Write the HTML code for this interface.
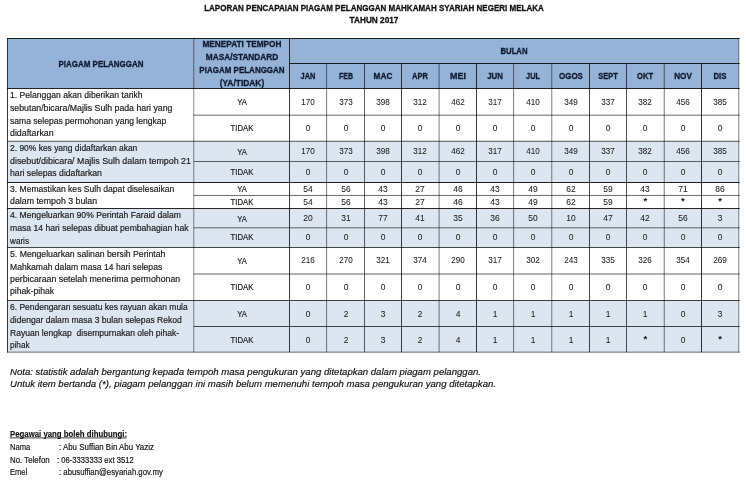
<!DOCTYPE html>
<html lang="ms"><head><meta charset="utf-8"><title>Laporan Pencapaian Piagam Pelanggan Mahkamah Syariah Negeri Melaka 2017</title>
<style>
html,body{margin:0;padding:0;background:#fff}
body{width:746px;height:480px;position:relative;overflow:hidden;font-family:"Liberation Sans",sans-serif}
#grid{position:absolute;left:0;top:0}
#txt{position:absolute;left:0;top:0;width:746px;height:480px;will-change:transform}
.t{position:absolute;white-space:pre;line-height:12px;height:12px;margin:0;padding:0}
.l{transform-origin:0 50%}
.c{transform-origin:50% 50%}
.title{font-size:9.2px;color:#111;font-weight:bold;}
.hdr{font-size:8.7px;color:#0f1a30;font-weight:bold;}
.body{font-size:8.65px;color:#1a1a1a;}
.lab{font-size:8.2px;color:#1a1a1a;}
.num{font-size:8.4px;color:#1a1a1a;}
.note{font-size:9.57px;color:#111;font-style:italic;}
.chead{font-size:9.2px;color:#111;font-weight:bold;}
.ast{font-size:9.5px;color:#111;font-weight:bold;}
.con{font-size:9.2px;color:#111;}
.hdr,.title{-webkit-text-stroke:0.3px currentColor}
.chead{-webkit-text-stroke:0.15px currentColor}
.body,.lab,.note,.con{-webkit-text-stroke:0.18px currentColor}
.num{-webkit-text-stroke:0.06px currentColor}
</style></head><body>
<svg id="grid" width="746" height="480" viewBox="0 0 746 480"><rect x="7.5" y="38.5" width="731.28" height="50.0" fill="#95b3d7"/><rect x="7.5" y="141.25" width="731.28" height="41.25" fill="#dce6f1"/><rect x="7.5" y="208.5" width="731.28" height="39.0" fill="#dce6f1"/><rect x="7.5" y="300.5" width="731.28" height="51.65" fill="#dce6f1"/><g stroke="#000" fill="none"><line x1="7.11" y1="38.5" x2="739.68" y2="38.5" stroke-width="0.88"/><line x1="289.5" y1="63.5" x2="739.68" y2="63.5" stroke-width="0.85"/><line x1="7.11" y1="88.5" x2="739.68" y2="88.5" stroke-width="0.85"/><line x1="193.78" y1="115.17" x2="739.68" y2="115.17" stroke-width="0.6"/><line x1="7.11" y1="141.25" x2="739.68" y2="141.25" stroke-width="0.67"/><line x1="193.78" y1="161.5" x2="739.68" y2="161.5" stroke-width="0.6"/><line x1="7.11" y1="182.5" x2="739.68" y2="182.5" stroke-width="0.88"/><line x1="193.78" y1="195.45" x2="739.68" y2="195.45" stroke-width="0.58"/><line x1="7.11" y1="208.5" x2="739.68" y2="208.5" stroke-width="0.85"/><line x1="193.78" y1="227.8" x2="739.68" y2="227.8" stroke-width="0.58"/><line x1="7.11" y1="247.5" x2="739.68" y2="247.5" stroke-width="0.72"/><line x1="193.78" y1="274.0" x2="739.68" y2="274.0" stroke-width="0.6"/><line x1="7.11" y1="300.5" x2="739.68" y2="300.5" stroke-width="0.75"/><line x1="193.78" y1="326.5" x2="739.68" y2="326.5" stroke-width="0.72"/><line x1="7.11" y1="352.15" x2="739.68" y2="352.15" stroke-width="0.58"/><line x1="7.5" y1="38.06" x2="7.5" y2="352.44" stroke-width="0.78"/><line x1="193.78" y1="38.5" x2="193.78" y2="352.15" stroke-width="0.47"/><line x1="289.5" y1="38.5" x2="289.5" y2="352.15" stroke-width="0.78"/><line x1="738.78" y1="38.06" x2="738.78" y2="352.44" stroke-width="0.5"/><line x1="326.6" y1="63.5" x2="326.6" y2="352.15" stroke-width="0.53"/><line x1="364.5" y1="63.5" x2="364.5" y2="352.15" stroke-width="0.62"/><line x1="401.5" y1="63.5" x2="401.5" y2="352.15" stroke-width="0.76"/><line x1="439.08" y1="63.5" x2="439.08" y2="352.15" stroke-width="0.53"/><line x1="476.5" y1="63.5" x2="476.5" y2="352.15" stroke-width="0.78"/><line x1="513.6" y1="63.5" x2="513.6" y2="352.15" stroke-width="0.53"/><line x1="551.78" y1="63.5" x2="551.78" y2="352.15" stroke-width="0.5"/><line x1="589.5" y1="63.5" x2="589.5" y2="352.15" stroke-width="0.72"/><line x1="626.5" y1="63.5" x2="626.5" y2="352.15" stroke-width="0.69"/><line x1="664.24" y1="63.5" x2="664.24" y2="352.15" stroke-width="0.54"/><line x1="701.5" y1="63.5" x2="701.5" y2="352.15" stroke-width="0.8"/></g><line x1="9.6" y1="437.9" x2="126.6" y2="437.9" stroke="#111" stroke-width="0.8"/></svg>
<div id="txt">
<div class="t c title" id="t0" style="top:2.00px;left:173.85px;width:400px;text-align:center;transform:scaleX(0.8734);"><span id="s0">LAPORAN PENCAPAIAN PIAGAM PELANGGAN MAHKAMAH SYARIAH NEGERI MELAKA</span></div>
<div class="t c title" id="t1" style="top:14.00px;left:173.60px;width:400px;text-align:center;transform:scaleX(0.8959);"><span id="s1">TAHUN 2017</span></div>
<div class="t c hdr" id="t2" style="top:58.00px;left:-99.50px;width:400px;text-align:center;transform:scaleX(0.9172);"><span id="s2">PIAGAM PELANGGAN</span></div>
<div class="t c hdr" id="t3" style="top:38.00px;left:41.64px;width:400px;text-align:center;transform:scaleX(0.9497);"><span id="s3">MENEPATI TEMPOH</span></div>
<div class="t c hdr" id="t4" style="top:51.00px;left:41.64px;width:400px;text-align:center;transform:scaleX(0.9515);"><span id="s4">MASA/STANDARD</span></div>
<div class="t c hdr" id="t5" style="top:64.00px;left:41.64px;width:400px;text-align:center;transform:scaleX(0.9205);"><span id="s5">PIAGAM PELANGGAN</span></div>
<div class="t c hdr" id="t6" style="top:77.00px;left:41.64px;width:400px;text-align:center;transform:scaleX(0.9671);"><span id="s6">(YA/TIDAK)</span></div>
<div class="t c hdr" id="t7" style="top:45.00px;left:314.14px;width:400px;text-align:center;transform:scaleX(0.8913);"><span id="s7">BULAN</span></div>
<div class="t c hdr" id="t8" style="top:70.00px;left:108.05px;width:400px;text-align:center;transform:scaleX(0.8510);"><span id="s8">JAN</span></div>
<div class="t c hdr" id="t9" style="top:70.00px;left:145.55px;width:400px;text-align:center;transform:scaleX(0.8058);"><span id="s9">FEB</span></div>
<div class="t c hdr" id="t10" style="top:70.00px;left:183.00px;width:400px;text-align:center;transform:scaleX(0.9496);"><span id="s10">MAC</span></div>
<div class="t c hdr" id="t11" style="top:70.00px;left:220.29px;width:400px;text-align:center;transform:scaleX(0.8668);"><span id="s11">APR</span></div>
<div class="t c hdr" id="t12" style="top:70.00px;left:257.79px;width:400px;text-align:center;transform:scaleX(1.0289);"><span id="s12">MEI</span></div>
<div class="t c hdr" id="t13" style="top:70.00px;left:295.05px;width:400px;text-align:center;transform:scaleX(0.9028);"><span id="s13">JUN</span></div>
<div class="t c hdr" id="t14" style="top:70.00px;left:332.69px;width:400px;text-align:center;transform:scaleX(0.8464);"><span id="s14">JUL</span></div>
<div class="t c hdr" id="t15" style="top:70.00px;left:370.64px;width:400px;text-align:center;transform:scaleX(0.9165);"><span id="s15">OGOS</span></div>
<div class="t c hdr" id="t16" style="top:70.00px;left:408.00px;width:400px;text-align:center;transform:scaleX(0.8589);"><span id="s16">SEPT</span></div>
<div class="t c hdr" id="t17" style="top:70.00px;left:445.37px;width:400px;text-align:center;transform:scaleX(0.8777);"><span id="s17">OKT</span></div>
<div class="t c hdr" id="t18" style="top:70.00px;left:482.87px;width:400px;text-align:center;transform:scaleX(0.9401);"><span id="s18">NOV</span></div>
<div class="t c hdr" id="t19" style="top:70.00px;left:520.14px;width:400px;text-align:center;transform:scaleX(0.8975);"><span id="s19">DIS</span></div>
<div class="t l body" id="t20" style="top:89.00px;left:10.00px;transform:scaleX(0.9983);">1. Pelanggan akan diberikan tarikh</div>
<div class="t l body" id="t21" style="top:102.00px;left:10.00px;transform:scaleX(1.0141);">sebutan/bicara/Majlis Sulh pada hari yang</div>
<div class="t l body" id="t22" style="top:115.00px;left:10.00px;transform:scaleX(0.9901);">sama selepas permohonan yang lengkap</div>
<div class="t l body" id="t23" style="top:127.00px;left:10.00px;transform:scaleX(1.0214);">didaftarkan</div>
<div class="t l body" id="t24" style="top:142.00px;left:10.00px;transform:scaleX(0.9796);">2. 90% kes yang didaftarkan akan</div>
<div class="t l body" id="t25" style="top:155.00px;left:10.00px;transform:scaleX(1.0281);">disebut/dibicara/ Majlis Sulh dalam tempoh 21</div>
<div class="t l body" id="t26" style="top:167.00px;left:10.00px;transform:scaleX(1.0035);">hari selepas didaftarkan</div>
<div class="t l body" id="t27" style="top:183.00px;left:10.00px;transform:scaleX(0.9933);">3. Memastikan kes Sulh dapat diselesaikan</div>
<div class="t l body" id="t28" style="top:195.00px;left:10.00px;transform:scaleX(1.0204);">dalam tempoh 3 bulan</div>
<div class="t l body" id="t29" style="top:209.00px;left:10.00px;transform:scaleX(0.9990);">4. Mengeluarkan 90% Perintah Faraid dalam</div>
<div class="t l body" id="t30" style="top:222.00px;left:10.00px;transform:scaleX(0.9980);">masa 14 hari selepas dibuat pembahagian hak</div>
<div class="t l body" id="t31" style="top:235.00px;left:10.00px;transform:scaleX(0.9434);">waris</div>
<div class="t l body" id="t32" style="top:248.00px;left:10.00px;transform:scaleX(1.0065);">5. Mengeluarkan salinan bersih Perintah</div>
<div class="t l body" id="t33" style="top:261.00px;left:10.00px;transform:scaleX(0.9952);">Mahkamah dalam masa 14 hari selepas</div>
<div class="t l body" id="t34" style="top:273.00px;left:10.00px;transform:scaleX(1.0171);">perbicaraan setelah menerima permohonan</div>
<div class="t l body" id="t35" style="top:285.00px;left:10.00px;transform:scaleX(1.0017);">pihak-pihak</div>
<div class="t l body" id="t36" style="top:301.00px;left:10.00px;transform:scaleX(0.9830);">6. Pendengaran sesuatu kes rayuan akan mula</div>
<div class="t l body" id="t37" style="top:314.00px;left:10.00px;transform:scaleX(0.9925);">didengar dalam masa 3 bulan selepas Rekod</div>
<div class="t l body" id="t38" style="top:327.00px;left:10.00px;transform:scaleX(0.9906);">Rayuan lengkap  disempurnakan oleh pihak-</div>
<div class="t l body" id="t39" style="top:339.00px;left:10.00px;transform:scaleX(0.9455);">pihak</div>
<div class="t c lab" id="t40" style="top:97.00px;left:41.64px;width:400px;text-align:center;transform:scaleX(0.9295);"><span id="s40">YA</span></div>
<div class="t c num" id="t41" style="top:96.00px;left:108.05px;width:400px;text-align:center;transform:scaleX(0.9654);"><span id="s41">170</span></div>
<div class="t c num" id="t42" style="top:96.00px;left:145.55px;width:400px;text-align:center;transform:scaleX(0.9654);"><span id="s42">373</span></div>
<div class="t c num" id="t43" style="top:96.00px;left:183.00px;width:400px;text-align:center;transform:scaleX(0.9654);"><span id="s43">398</span></div>
<div class="t c num" id="t44" style="top:96.00px;left:220.29px;width:400px;text-align:center;transform:scaleX(0.9654);"><span id="s44">312</span></div>
<div class="t c num" id="t45" style="top:96.00px;left:257.79px;width:400px;text-align:center;transform:scaleX(0.9654);"><span id="s45">462</span></div>
<div class="t c num" id="t46" style="top:96.00px;left:295.05px;width:400px;text-align:center;transform:scaleX(0.9654);"><span id="s46">317</span></div>
<div class="t c num" id="t47" style="top:96.00px;left:332.69px;width:400px;text-align:center;transform:scaleX(0.9654);"><span id="s47">410</span></div>
<div class="t c num" id="t48" style="top:96.00px;left:370.64px;width:400px;text-align:center;transform:scaleX(0.9654);"><span id="s48">349</span></div>
<div class="t c num" id="t49" style="top:96.00px;left:408.00px;width:400px;text-align:center;transform:scaleX(0.9654);"><span id="s49">337</span></div>
<div class="t c num" id="t50" style="top:96.00px;left:445.37px;width:400px;text-align:center;transform:scaleX(0.9654);"><span id="s50">382</span></div>
<div class="t c num" id="t51" style="top:96.00px;left:482.87px;width:400px;text-align:center;transform:scaleX(0.9654);"><span id="s51">456</span></div>
<div class="t c num" id="t52" style="top:96.00px;left:520.14px;width:400px;text-align:center;transform:scaleX(0.9654);"><span id="s52">385</span></div>
<div class="t c lab" id="t53" style="top:123.00px;left:41.64px;width:400px;text-align:center;transform:scaleX(0.9451);"><span id="s53">TIDAK</span></div>
<div class="t c num" id="t54" style="top:122.00px;left:108.05px;width:400px;text-align:center;transform:scaleX(1.0060);"><span id="s54">0</span></div>
<div class="t c num" id="t55" style="top:122.00px;left:145.55px;width:400px;text-align:center;transform:scaleX(1.0060);"><span id="s55">0</span></div>
<div class="t c num" id="t56" style="top:122.00px;left:183.00px;width:400px;text-align:center;transform:scaleX(1.0060);"><span id="s56">0</span></div>
<div class="t c num" id="t57" style="top:122.00px;left:220.29px;width:400px;text-align:center;transform:scaleX(1.0060);"><span id="s57">0</span></div>
<div class="t c num" id="t58" style="top:122.00px;left:257.79px;width:400px;text-align:center;transform:scaleX(1.0060);"><span id="s58">0</span></div>
<div class="t c num" id="t59" style="top:122.00px;left:295.05px;width:400px;text-align:center;transform:scaleX(1.0060);"><span id="s59">0</span></div>
<div class="t c num" id="t60" style="top:122.00px;left:332.69px;width:400px;text-align:center;transform:scaleX(1.0060);"><span id="s60">0</span></div>
<div class="t c num" id="t61" style="top:122.00px;left:370.64px;width:400px;text-align:center;transform:scaleX(1.0060);"><span id="s61">0</span></div>
<div class="t c num" id="t62" style="top:122.00px;left:408.00px;width:400px;text-align:center;transform:scaleX(1.0060);"><span id="s62">0</span></div>
<div class="t c num" id="t63" style="top:122.00px;left:445.37px;width:400px;text-align:center;transform:scaleX(1.0060);"><span id="s63">0</span></div>
<div class="t c num" id="t64" style="top:122.00px;left:482.87px;width:400px;text-align:center;transform:scaleX(1.0060);"><span id="s64">0</span></div>
<div class="t c num" id="t65" style="top:122.00px;left:520.14px;width:400px;text-align:center;transform:scaleX(1.0060);"><span id="s65">0</span></div>
<div class="t c lab" id="t66" style="top:147.00px;left:41.64px;width:400px;text-align:center;transform:scaleX(0.9295);"><span id="s66">YA</span></div>
<div class="t c num" id="t67" style="top:145.00px;left:108.05px;width:400px;text-align:center;transform:scaleX(0.9654);"><span id="s67">170</span></div>
<div class="t c num" id="t68" style="top:145.00px;left:145.55px;width:400px;text-align:center;transform:scaleX(0.9654);"><span id="s68">373</span></div>
<div class="t c num" id="t69" style="top:145.00px;left:183.00px;width:400px;text-align:center;transform:scaleX(0.9654);"><span id="s69">398</span></div>
<div class="t c num" id="t70" style="top:145.00px;left:220.29px;width:400px;text-align:center;transform:scaleX(0.9654);"><span id="s70">312</span></div>
<div class="t c num" id="t71" style="top:145.00px;left:257.79px;width:400px;text-align:center;transform:scaleX(0.9654);"><span id="s71">462</span></div>
<div class="t c num" id="t72" style="top:145.00px;left:295.05px;width:400px;text-align:center;transform:scaleX(0.9654);"><span id="s72">317</span></div>
<div class="t c num" id="t73" style="top:145.00px;left:332.69px;width:400px;text-align:center;transform:scaleX(0.9654);"><span id="s73">410</span></div>
<div class="t c num" id="t74" style="top:145.00px;left:370.64px;width:400px;text-align:center;transform:scaleX(0.9654);"><span id="s74">349</span></div>
<div class="t c num" id="t75" style="top:145.00px;left:408.00px;width:400px;text-align:center;transform:scaleX(0.9654);"><span id="s75">337</span></div>
<div class="t c num" id="t76" style="top:145.00px;left:445.37px;width:400px;text-align:center;transform:scaleX(0.9654);"><span id="s76">382</span></div>
<div class="t c num" id="t77" style="top:145.00px;left:482.87px;width:400px;text-align:center;transform:scaleX(0.9654);"><span id="s77">456</span></div>
<div class="t c num" id="t78" style="top:145.00px;left:520.14px;width:400px;text-align:center;transform:scaleX(0.9654);"><span id="s78">385</span></div>
<div class="t c lab" id="t79" style="top:167.00px;left:41.64px;width:400px;text-align:center;transform:scaleX(0.9451);"><span id="s79">TIDAK</span></div>
<div class="t c num" id="t80" style="top:166.00px;left:108.05px;width:400px;text-align:center;transform:scaleX(1.0060);"><span id="s80">0</span></div>
<div class="t c num" id="t81" style="top:166.00px;left:145.55px;width:400px;text-align:center;transform:scaleX(1.0060);"><span id="s81">0</span></div>
<div class="t c num" id="t82" style="top:166.00px;left:183.00px;width:400px;text-align:center;transform:scaleX(1.0060);"><span id="s82">0</span></div>
<div class="t c num" id="t83" style="top:166.00px;left:220.29px;width:400px;text-align:center;transform:scaleX(1.0060);"><span id="s83">0</span></div>
<div class="t c num" id="t84" style="top:166.00px;left:257.79px;width:400px;text-align:center;transform:scaleX(1.0060);"><span id="s84">0</span></div>
<div class="t c num" id="t85" style="top:166.00px;left:295.05px;width:400px;text-align:center;transform:scaleX(1.0060);"><span id="s85">0</span></div>
<div class="t c num" id="t86" style="top:166.00px;left:332.69px;width:400px;text-align:center;transform:scaleX(1.0060);"><span id="s86">0</span></div>
<div class="t c num" id="t87" style="top:166.00px;left:370.64px;width:400px;text-align:center;transform:scaleX(1.0060);"><span id="s87">0</span></div>
<div class="t c num" id="t88" style="top:166.00px;left:408.00px;width:400px;text-align:center;transform:scaleX(1.0060);"><span id="s88">0</span></div>
<div class="t c num" id="t89" style="top:166.00px;left:445.37px;width:400px;text-align:center;transform:scaleX(1.0060);"><span id="s89">0</span></div>
<div class="t c num" id="t90" style="top:166.00px;left:482.87px;width:400px;text-align:center;transform:scaleX(1.0060);"><span id="s90">0</span></div>
<div class="t c num" id="t91" style="top:166.00px;left:520.14px;width:400px;text-align:center;transform:scaleX(1.0060);"><span id="s91">0</span></div>
<div class="t c lab" id="t92" style="top:184.00px;left:41.64px;width:400px;text-align:center;transform:scaleX(0.9295);"><span id="s92">YA</span></div>
<div class="t c num" id="t93" style="top:183.00px;left:108.05px;width:400px;text-align:center;transform:scaleX(1.0077);"><span id="s93">54</span></div>
<div class="t c num" id="t94" style="top:183.00px;left:145.55px;width:400px;text-align:center;transform:scaleX(1.0077);"><span id="s94">56</span></div>
<div class="t c num" id="t95" style="top:183.00px;left:183.00px;width:400px;text-align:center;transform:scaleX(1.0077);"><span id="s95">43</span></div>
<div class="t c num" id="t96" style="top:183.00px;left:220.29px;width:400px;text-align:center;transform:scaleX(1.0077);"><span id="s96">27</span></div>
<div class="t c num" id="t97" style="top:183.00px;left:257.79px;width:400px;text-align:center;transform:scaleX(1.0077);"><span id="s97">46</span></div>
<div class="t c num" id="t98" style="top:183.00px;left:295.05px;width:400px;text-align:center;transform:scaleX(1.0077);"><span id="s98">43</span></div>
<div class="t c num" id="t99" style="top:183.00px;left:332.69px;width:400px;text-align:center;transform:scaleX(1.0077);"><span id="s99">49</span></div>
<div class="t c num" id="t100" style="top:183.00px;left:370.64px;width:400px;text-align:center;transform:scaleX(1.0077);"><span id="s100">62</span></div>
<div class="t c num" id="t101" style="top:183.00px;left:408.00px;width:400px;text-align:center;transform:scaleX(1.0077);"><span id="s101">59</span></div>
<div class="t c num" id="t102" style="top:183.00px;left:445.37px;width:400px;text-align:center;transform:scaleX(1.0077);"><span id="s102">43</span></div>
<div class="t c num" id="t103" style="top:183.00px;left:482.87px;width:400px;text-align:center;transform:scaleX(1.0077);"><span id="s103">71</span></div>
<div class="t c num" id="t104" style="top:183.00px;left:520.14px;width:400px;text-align:center;transform:scaleX(1.0077);"><span id="s104">86</span></div>
<div class="t c lab" id="t105" style="top:197.00px;left:41.64px;width:400px;text-align:center;transform:scaleX(0.9451);"><span id="s105">TIDAK</span></div>
<div class="t c num" id="t106" style="top:196.00px;left:108.05px;width:400px;text-align:center;transform:scaleX(1.0077);"><span id="s106">54</span></div>
<div class="t c num" id="t107" style="top:196.00px;left:145.55px;width:400px;text-align:center;transform:scaleX(1.0077);"><span id="s107">56</span></div>
<div class="t c num" id="t108" style="top:196.00px;left:183.00px;width:400px;text-align:center;transform:scaleX(1.0077);"><span id="s108">43</span></div>
<div class="t c num" id="t109" style="top:196.00px;left:220.29px;width:400px;text-align:center;transform:scaleX(1.0077);"><span id="s109">27</span></div>
<div class="t c num" id="t110" style="top:196.00px;left:257.79px;width:400px;text-align:center;transform:scaleX(1.0077);"><span id="s110">46</span></div>
<div class="t c num" id="t111" style="top:196.00px;left:295.05px;width:400px;text-align:center;transform:scaleX(1.0077);"><span id="s111">43</span></div>
<div class="t c num" id="t112" style="top:196.00px;left:332.69px;width:400px;text-align:center;transform:scaleX(1.0077);"><span id="s112">49</span></div>
<div class="t c num" id="t113" style="top:196.00px;left:370.64px;width:400px;text-align:center;transform:scaleX(1.0077);"><span id="s113">62</span></div>
<div class="t c num" id="t114" style="top:196.00px;left:408.00px;width:400px;text-align:center;transform:scaleX(1.0077);"><span id="s114">59</span></div>
<div class="t c ast" id="t115" style="top:195.00px;left:445.37px;width:400px;text-align:center;"><span id="s115">*</span></div>
<div class="t c ast" id="t116" style="top:195.00px;left:482.87px;width:400px;text-align:center;"><span id="s116">*</span></div>
<div class="t c ast" id="t117" style="top:195.00px;left:520.14px;width:400px;text-align:center;"><span id="s117">*</span></div>
<div class="t c lab" id="t118" style="top:214.00px;left:41.64px;width:400px;text-align:center;transform:scaleX(0.9295);"><span id="s118">YA</span></div>
<div class="t c num" id="t119" style="top:212.00px;left:108.05px;width:400px;text-align:center;transform:scaleX(1.0077);"><span id="s119">20</span></div>
<div class="t c num" id="t120" style="top:212.00px;left:145.55px;width:400px;text-align:center;transform:scaleX(1.0077);"><span id="s120">31</span></div>
<div class="t c num" id="t121" style="top:212.00px;left:183.00px;width:400px;text-align:center;transform:scaleX(1.0077);"><span id="s121">77</span></div>
<div class="t c num" id="t122" style="top:212.00px;left:220.29px;width:400px;text-align:center;transform:scaleX(1.0077);"><span id="s122">41</span></div>
<div class="t c num" id="t123" style="top:212.00px;left:257.79px;width:400px;text-align:center;transform:scaleX(1.0077);"><span id="s123">35</span></div>
<div class="t c num" id="t124" style="top:212.00px;left:295.05px;width:400px;text-align:center;transform:scaleX(1.0077);"><span id="s124">36</span></div>
<div class="t c num" id="t125" style="top:212.00px;left:332.69px;width:400px;text-align:center;transform:scaleX(1.0077);"><span id="s125">50</span></div>
<div class="t c num" id="t126" style="top:212.00px;left:370.64px;width:400px;text-align:center;transform:scaleX(1.0077);"><span id="s126">10</span></div>
<div class="t c num" id="t127" style="top:212.00px;left:408.00px;width:400px;text-align:center;transform:scaleX(1.0077);"><span id="s127">47</span></div>
<div class="t c num" id="t128" style="top:212.00px;left:445.37px;width:400px;text-align:center;transform:scaleX(1.0077);"><span id="s128">42</span></div>
<div class="t c num" id="t129" style="top:212.00px;left:482.87px;width:400px;text-align:center;transform:scaleX(1.0077);"><span id="s129">56</span></div>
<div class="t c num" id="t130" style="top:212.00px;left:520.14px;width:400px;text-align:center;transform:scaleX(1.0060);"><span id="s130">3</span></div>
<div class="t c lab" id="t131" style="top:232.00px;left:41.64px;width:400px;text-align:center;transform:scaleX(0.9451);"><span id="s131">TIDAK</span></div>
<div class="t c num" id="t132" style="top:231.00px;left:108.05px;width:400px;text-align:center;transform:scaleX(1.0060);"><span id="s132">0</span></div>
<div class="t c num" id="t133" style="top:231.00px;left:145.55px;width:400px;text-align:center;transform:scaleX(1.0060);"><span id="s133">0</span></div>
<div class="t c num" id="t134" style="top:231.00px;left:183.00px;width:400px;text-align:center;transform:scaleX(1.0060);"><span id="s134">0</span></div>
<div class="t c num" id="t135" style="top:231.00px;left:220.29px;width:400px;text-align:center;transform:scaleX(1.0060);"><span id="s135">0</span></div>
<div class="t c num" id="t136" style="top:231.00px;left:257.79px;width:400px;text-align:center;transform:scaleX(1.0060);"><span id="s136">0</span></div>
<div class="t c num" id="t137" style="top:231.00px;left:295.05px;width:400px;text-align:center;transform:scaleX(1.0060);"><span id="s137">0</span></div>
<div class="t c num" id="t138" style="top:231.00px;left:332.69px;width:400px;text-align:center;transform:scaleX(1.0060);"><span id="s138">0</span></div>
<div class="t c num" id="t139" style="top:231.00px;left:370.64px;width:400px;text-align:center;transform:scaleX(1.0060);"><span id="s139">0</span></div>
<div class="t c num" id="t140" style="top:231.00px;left:408.00px;width:400px;text-align:center;transform:scaleX(1.0060);"><span id="s140">0</span></div>
<div class="t c num" id="t141" style="top:231.00px;left:445.37px;width:400px;text-align:center;transform:scaleX(1.0060);"><span id="s141">0</span></div>
<div class="t c num" id="t142" style="top:231.00px;left:482.87px;width:400px;text-align:center;transform:scaleX(1.0060);"><span id="s142">0</span></div>
<div class="t c num" id="t143" style="top:231.00px;left:520.14px;width:400px;text-align:center;transform:scaleX(1.0060);"><span id="s143">0</span></div>
<div class="t c lab" id="t144" style="top:256.00px;left:41.64px;width:400px;text-align:center;transform:scaleX(0.9295);"><span id="s144">YA</span></div>
<div class="t c num" id="t145" style="top:254.00px;left:108.05px;width:400px;text-align:center;transform:scaleX(0.9654);"><span id="s145">216</span></div>
<div class="t c num" id="t146" style="top:254.00px;left:145.55px;width:400px;text-align:center;transform:scaleX(0.9654);"><span id="s146">270</span></div>
<div class="t c num" id="t147" style="top:254.00px;left:183.00px;width:400px;text-align:center;transform:scaleX(0.9654);"><span id="s147">321</span></div>
<div class="t c num" id="t148" style="top:254.00px;left:220.29px;width:400px;text-align:center;transform:scaleX(0.9654);"><span id="s148">374</span></div>
<div class="t c num" id="t149" style="top:254.00px;left:257.79px;width:400px;text-align:center;transform:scaleX(0.9654);"><span id="s149">290</span></div>
<div class="t c num" id="t150" style="top:254.00px;left:295.05px;width:400px;text-align:center;transform:scaleX(0.9654);"><span id="s150">317</span></div>
<div class="t c num" id="t151" style="top:254.00px;left:332.69px;width:400px;text-align:center;transform:scaleX(0.9654);"><span id="s151">302</span></div>
<div class="t c num" id="t152" style="top:254.00px;left:370.64px;width:400px;text-align:center;transform:scaleX(0.9654);"><span id="s152">243</span></div>
<div class="t c num" id="t153" style="top:254.00px;left:408.00px;width:400px;text-align:center;transform:scaleX(0.9654);"><span id="s153">335</span></div>
<div class="t c num" id="t154" style="top:254.00px;left:445.37px;width:400px;text-align:center;transform:scaleX(0.9654);"><span id="s154">326</span></div>
<div class="t c num" id="t155" style="top:254.00px;left:482.87px;width:400px;text-align:center;transform:scaleX(0.9654);"><span id="s155">354</span></div>
<div class="t c num" id="t156" style="top:254.00px;left:520.14px;width:400px;text-align:center;transform:scaleX(0.9654);"><span id="s156">269</span></div>
<div class="t c lab" id="t157" style="top:282.00px;left:41.64px;width:400px;text-align:center;transform:scaleX(0.9451);"><span id="s157">TIDAK</span></div>
<div class="t c num" id="t158" style="top:281.00px;left:108.05px;width:400px;text-align:center;transform:scaleX(1.0060);"><span id="s158">0</span></div>
<div class="t c num" id="t159" style="top:281.00px;left:145.55px;width:400px;text-align:center;transform:scaleX(1.0060);"><span id="s159">0</span></div>
<div class="t c num" id="t160" style="top:281.00px;left:183.00px;width:400px;text-align:center;transform:scaleX(1.0060);"><span id="s160">0</span></div>
<div class="t c num" id="t161" style="top:281.00px;left:220.29px;width:400px;text-align:center;transform:scaleX(1.0060);"><span id="s161">0</span></div>
<div class="t c num" id="t162" style="top:281.00px;left:257.79px;width:400px;text-align:center;transform:scaleX(1.0060);"><span id="s162">0</span></div>
<div class="t c num" id="t163" style="top:281.00px;left:295.05px;width:400px;text-align:center;transform:scaleX(1.0060);"><span id="s163">0</span></div>
<div class="t c num" id="t164" style="top:281.00px;left:332.69px;width:400px;text-align:center;transform:scaleX(1.0060);"><span id="s164">0</span></div>
<div class="t c num" id="t165" style="top:281.00px;left:370.64px;width:400px;text-align:center;transform:scaleX(1.0060);"><span id="s165">0</span></div>
<div class="t c num" id="t166" style="top:281.00px;left:408.00px;width:400px;text-align:center;transform:scaleX(1.0060);"><span id="s166">0</span></div>
<div class="t c num" id="t167" style="top:281.00px;left:445.37px;width:400px;text-align:center;transform:scaleX(1.0060);"><span id="s167">0</span></div>
<div class="t c num" id="t168" style="top:281.00px;left:482.87px;width:400px;text-align:center;transform:scaleX(1.0060);"><span id="s168">0</span></div>
<div class="t c num" id="t169" style="top:281.00px;left:520.14px;width:400px;text-align:center;transform:scaleX(1.0060);"><span id="s169">0</span></div>
<div class="t c lab" id="t170" style="top:309.00px;left:41.64px;width:400px;text-align:center;transform:scaleX(0.9295);"><span id="s170">YA</span></div>
<div class="t c num" id="t171" style="top:308.00px;left:108.05px;width:400px;text-align:center;transform:scaleX(1.0060);"><span id="s171">0</span></div>
<div class="t c num" id="t172" style="top:308.00px;left:145.55px;width:400px;text-align:center;transform:scaleX(1.0060);"><span id="s172">2</span></div>
<div class="t c num" id="t173" style="top:308.00px;left:183.00px;width:400px;text-align:center;transform:scaleX(1.0060);"><span id="s173">3</span></div>
<div class="t c num" id="t174" style="top:308.00px;left:220.29px;width:400px;text-align:center;transform:scaleX(1.0060);"><span id="s174">2</span></div>
<div class="t c num" id="t175" style="top:308.00px;left:257.79px;width:400px;text-align:center;transform:scaleX(1.0060);"><span id="s175">4</span></div>
<div class="t c num" id="t176" style="top:308.00px;left:295.05px;width:400px;text-align:center;transform:scaleX(1.0060);"><span id="s176">1</span></div>
<div class="t c num" id="t177" style="top:308.00px;left:332.69px;width:400px;text-align:center;transform:scaleX(1.0060);"><span id="s177">1</span></div>
<div class="t c num" id="t178" style="top:308.00px;left:370.64px;width:400px;text-align:center;transform:scaleX(1.0060);"><span id="s178">1</span></div>
<div class="t c num" id="t179" style="top:308.00px;left:408.00px;width:400px;text-align:center;transform:scaleX(1.0060);"><span id="s179">1</span></div>
<div class="t c num" id="t180" style="top:308.00px;left:445.37px;width:400px;text-align:center;transform:scaleX(1.0060);"><span id="s180">1</span></div>
<div class="t c num" id="t181" style="top:308.00px;left:482.87px;width:400px;text-align:center;transform:scaleX(1.0060);"><span id="s181">0</span></div>
<div class="t c num" id="t182" style="top:308.00px;left:520.14px;width:400px;text-align:center;transform:scaleX(1.0060);"><span id="s182">3</span></div>
<div class="t c lab" id="t183" style="top:335.00px;left:41.64px;width:400px;text-align:center;transform:scaleX(0.9451);"><span id="s183">TIDAK</span></div>
<div class="t c num" id="t184" style="top:334.00px;left:108.05px;width:400px;text-align:center;transform:scaleX(1.0060);"><span id="s184">0</span></div>
<div class="t c num" id="t185" style="top:334.00px;left:145.55px;width:400px;text-align:center;transform:scaleX(1.0060);"><span id="s185">2</span></div>
<div class="t c num" id="t186" style="top:334.00px;left:183.00px;width:400px;text-align:center;transform:scaleX(1.0060);"><span id="s186">3</span></div>
<div class="t c num" id="t187" style="top:334.00px;left:220.29px;width:400px;text-align:center;transform:scaleX(1.0060);"><span id="s187">2</span></div>
<div class="t c num" id="t188" style="top:334.00px;left:257.79px;width:400px;text-align:center;transform:scaleX(1.0060);"><span id="s188">4</span></div>
<div class="t c num" id="t189" style="top:334.00px;left:295.05px;width:400px;text-align:center;transform:scaleX(1.0060);"><span id="s189">1</span></div>
<div class="t c num" id="t190" style="top:334.00px;left:332.69px;width:400px;text-align:center;transform:scaleX(1.0060);"><span id="s190">1</span></div>
<div class="t c num" id="t191" style="top:334.00px;left:370.64px;width:400px;text-align:center;transform:scaleX(1.0060);"><span id="s191">1</span></div>
<div class="t c num" id="t192" style="top:334.00px;left:408.00px;width:400px;text-align:center;transform:scaleX(1.0060);"><span id="s192">1</span></div>
<div class="t c ast" id="t193" style="top:333.00px;left:445.37px;width:400px;text-align:center;"><span id="s193">*</span></div>
<div class="t c num" id="t194" style="top:334.00px;left:482.87px;width:400px;text-align:center;transform:scaleX(1.0060);"><span id="s194">0</span></div>
<div class="t c ast" id="t195" style="top:333.00px;left:520.14px;width:400px;text-align:center;"><span id="s195">*</span></div>
<div class="t l note" id="t196" style="top:366.00px;left:10.05px;transform:scaleX(1.0010);">Nota: statistik adalah bergantung kepada tempoh masa pengukuran yang ditetapkan dalam piagam pelanggan.</div>
<div class="t l note" id="t197" style="top:378.00px;left:10.05px;transform:scaleX(1.0002);">Untuk item bertanda (*), piagam pelanggan ini masih belum memenuhi tempoh masa pengukuran yang ditetapkan.</div>
<div class="t l chead" id="t198" style="top:428.00px;left:9.60px;transform:scaleX(0.8489);">Pegawai yang boleh dihubungi:</div>
<div class="t l con" id="t199" style="top:441.00px;left:9.65px;transform:scaleX(0.8219);">Nama</div>
<div class="t l con" id="t200" style="top:441.00px;left:59.20px;transform:scaleX(0.8602);">: Abu Suffian Bin Abu Yaziz</div>
<div class="t l con" id="t201" style="top:454.00px;left:9.65px;transform:scaleX(0.8561);">No. Telefon</div>
<div class="t l con" id="t202" style="top:454.00px;left:57.00px;transform:scaleX(0.8341);">: 06-3333333 ext 3512</div>
<div class="t l con" id="t203" style="top:466.00px;left:9.65px;transform:scaleX(0.8191);">Emel</div>
<div class="t l con" id="t204" style="top:466.00px;left:59.20px;transform:scaleX(0.8448);">: abusuffian@esyariah.gov.my</div>
</div>
</body></html>
